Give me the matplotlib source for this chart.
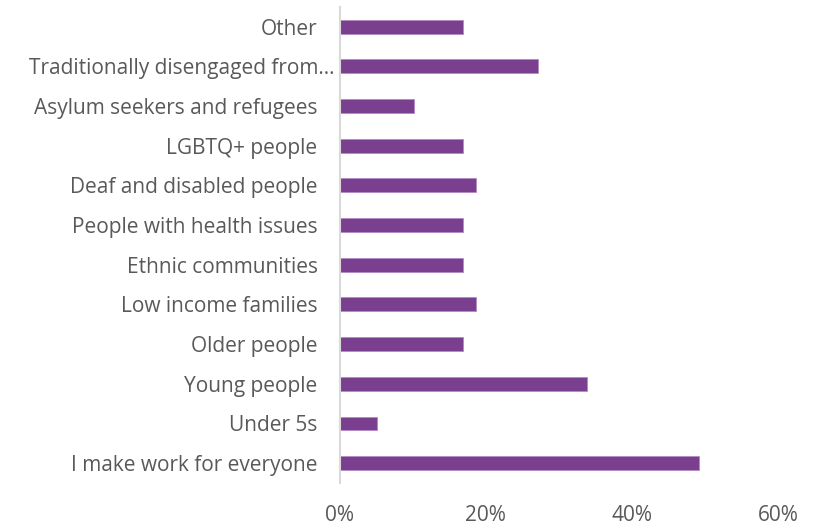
import matplotlib
matplotlib.use("Agg")
import matplotlib.pyplot as plt
from matplotlib.transforms import ScaledTranslation

# categories bottom-to-top as drawn (Excel order)
categories = ["I make work for everyone", "Under 5s", "Young people", "Older people",
              "Low income families", "Ethnic communities", "People with health issues",
              "Deaf and disabled people", "LGBTQ+ people", "Asylum seekers and refugees",
              "Traditionally disengaged from\u2026", "Other"]
values = [49.2, 5.1, 33.9, 16.9, 18.6, 16.9, 16.9, 18.6, 16.9, 10.2, 27.1, 16.9]
xticks = [0, 20, 40, 60]
xtick_labels = ["0%", "20%", "40%", "60%"]

plt.rcParams['font.family'] = ['Open Sans', 'DejaVu Sans']
text_col = "#595959"

fig = plt.figure(figsize=(8.13, 5.25), dpi=100)
ax = fig.add_axes([0.418, 0.08, 0.539, 0.907])

ax.barh(range(len(categories)), values, height=0.35, color="#7B3F8F",
        edgecolor="#B48AC4", linewidth=0.6)

ax.set_xlim(0, 60)
ax.set_ylim(-0.5, len(categories) - 0.5)
ax.set_yticks(range(len(categories)))
ax.set_yticklabels(categories, fontsize=15, color=text_col)
ax.set_xticks(xticks)
ax.set_xticklabels(xtick_labels, fontsize=15, color=text_col)
ax.tick_params(axis="both", length=0)
ax.tick_params(axis="x", pad=16)
ax.tick_params(axis="y", pad=16)

# the truncated label runs closer to the axis, like in the original
lbl = ax.get_yticklabels()[10]
lbl.set_transform(lbl.get_transform() + ScaledTranslation(12 / 72, 0, fig.dpi_scale_trans))

for s in ["top", "right", "bottom"]:
    ax.spines[s].set_visible(False)
ax.spines["left"].set_color("#D9D9D9")
ax.spines["left"].set_linewidth(1.5)

fig.savefig("out.png", dpi=100)
